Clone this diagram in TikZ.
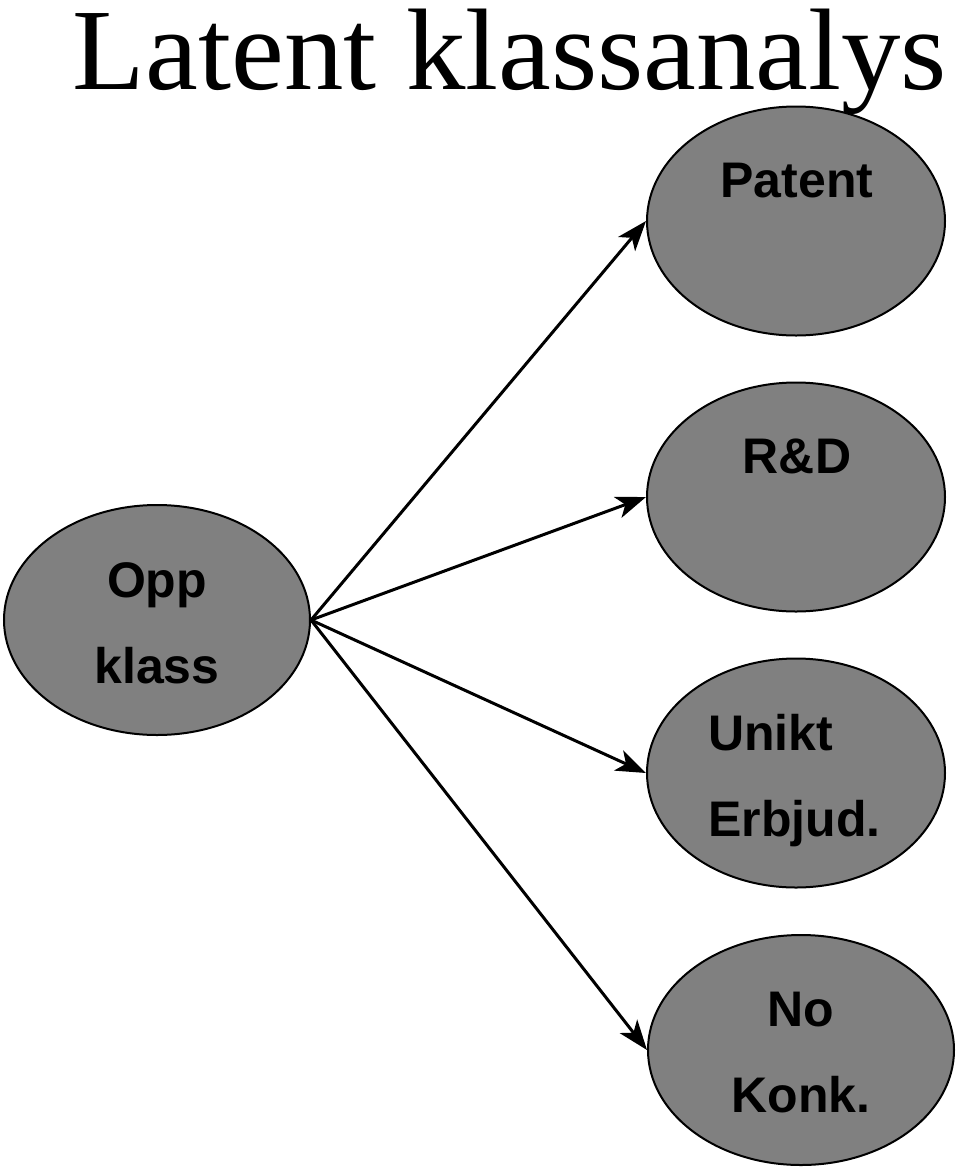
\documentclass[tikz,border=0pt]{standalone}
\usepackage{fontspec}
\setmainfont{Liberation Serif}
\newfontfamily\labfont{Liberation Sans}
\usetikzlibrary{shapes.geometric,arrows.meta}
\definecolor{ellgray}{HTML}{808080}
\begin{document}
\begin{tikzpicture}[x=1pt,y=1pt,
  oval/.style={ellipse,draw=black,line width=2pt,fill=ellgray,inner sep=0pt},
  lab/.style={font=\labfont\bfseries\fontsize{50}{60}\selectfont,anchor=base,inner sep=0pt},
  conn/.style={line width=3pt,-{Stealth[length=30pt,width=22pt,inset=8pt]}}]
\useasboundingbox (0,0) rectangle (960,-1168);
\node[font=\fontsize{116}{120}\selectfont,anchor=base,inner sep=0pt,xscale=1.024,transform shape] (title) at (510,-89) {Latent klassanalys};
\node[oval,minimum width=306pt,minimum height=230pt] (opp) at (157,-620) {};
\node[oval,minimum width=298pt,minimum height=229pt] (patent) at (796,-221) {};
\node[oval,minimum width=298pt,minimum height=229pt] (rd) at (796,-497) {};
\node[oval,minimum width=298pt,minimum height=229pt] (unikt) at (796,-773) {};
\node[oval,minimum width=306pt,minimum height=230pt] (nokonk) at (801,-1050) {};
\node[lab] (t1) at (157,-597) {Opp};
\node[lab] (t2) at (157,-683) {klass};
\node[lab] (t3) at (797,-197) {Patent};
\node[lab] (t4) at (797,-473) {R\&D};
\node[lab,anchor=base west] (t5) at (708,-750) {Unikt};
\node[lab,anchor=base west] (t6) at (708,-836) {Erbjud.};
\node[lab] (t7) at (801,-1026) {No};
\node[lab] (t8) at (801,-1112) {Konk.};
\coordinate (src) at (opp.east);
\draw[conn] (src) -- (patent.west);
\draw[conn] (src) -- (rd.west);
\draw[conn] (src) -- (unikt.west);
\draw[conn] (src) -- (nokonk.west);
\end{tikzpicture}
\end{document}
